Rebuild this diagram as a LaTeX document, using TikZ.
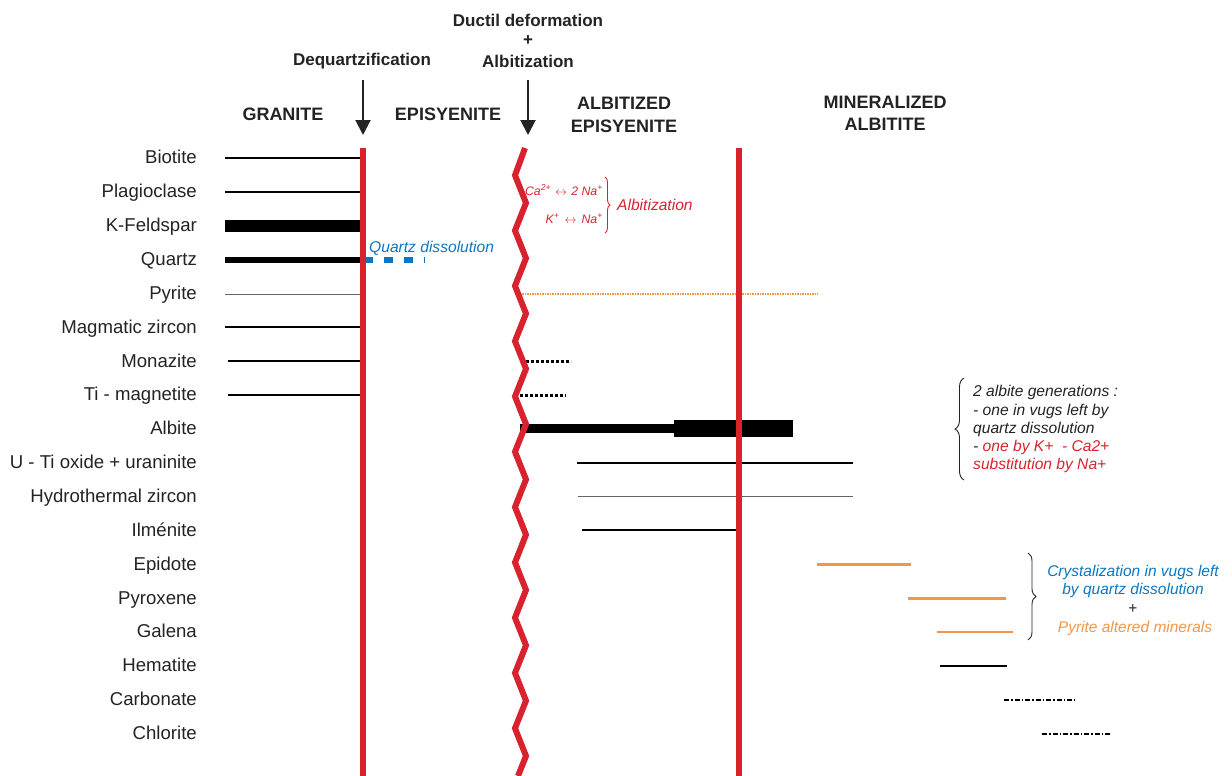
\documentclass[tikz,border=0pt]{standalone}
\usepackage{fontspec}
\setmainfont{Liberation Sans}
\usetikzlibrary{arrows.meta,decorations.pathreplacing}
\definecolor{fred}{RGB}{216,35,47}
\definecolor{fblue}{RGB}{10,119,196}
\definecolor{forange}{RGB}{245,150,70}
\definecolor{ftext}{RGB}{35,35,35}
\begin{document}
\begin{tikzpicture}[x=1pt,y=-1pt,
  lbl/.style={anchor=base east,inner sep=0,font=\fontsize{18.6}{21}\selectfont,text=ftext},
  hdr/.style={anchor=base,inner sep=0,font=\fontsize{18}{21}\selectfont\bfseries,text=ftext},
  evt/.style={anchor=base,inner sep=0,font=\fontsize{17}{20}\selectfont\bfseries,text=ftext},
  note/.style={anchor=base west,inner sep=0,font=\fontsize{15.6}{19}\selectfont\itshape,text=ftext},
  cnote/.style={anchor=base,inner sep=0,font=\fontsize{15.5}{19}\selectfont\itshape},
  ion/.style={anchor=base east,inner sep=0,font=\fontsize{12.3}{14}\selectfont\itshape,text=fred},
  redline/.style={draw=fred,line width=6pt,line join=miter},
  evtarrow/.style={-{Triangle[length=15pt,width=15pt]},line width=2pt,draw=ftext},
  thin/.style={line width=1.2pt},
  hairline/.style={line width=0.8pt,draw=black!60},
  dotline/.style={line width=3pt,dash pattern=on 3pt off 2pt},
  dashdot/.style={line width=2pt,dash pattern=on 5pt off 2pt on 1.5pt off 2pt},
  brc/.style={decorate,line width=0.9pt}
]
\useasboundingbox (0,0) rectangle (1232,776);

% ---- event labels and arrows
\node[evt] (dq) at (362,66) {Dequartzification};
\node[evt] (dd) at (528,27) {Ductil deformation};
\node[evt] (pl) at (528,46) {+};
\node[evt] (ab) at (528,67) {Albitization};
\coordinate (dqtop) at (363,80);
\coordinate (dqtip) at (363,135);
\coordinate (abtop) at (528,80);
\coordinate (abtip) at (528,135);
\draw[evtarrow] (dqtop) -- (dqtip);
\draw[evtarrow] (abtop) -- (abtip);

% ---- headers
\node[hdr] (h1) at (283,120.5) {GRANITE};
\node[hdr] (h2) at (448,121) {EPISYENITE};
\node[hdr] (h3a) at (624,110) {ALBITIZED};
\node[hdr] (h3b) at (624,132) {EPISYENITE};
\node[hdr] (h4a) at (885,108) {MINERALIZED};
\node[hdr] (h4b) at (885,130) {ALBITITE};

% ---- row labels
\foreach \t/\y [count=\i] in {Biotite/157,Plagioclase/191,K-Feldspar/225,Quartz/259,Pyrite/293,Magmatic zircon/327,Monazite/361,Ti - magnetite/394,Albite/428,U - Ti oxide + uraninite/462,Hydrothermal zircon/496,Ilménite/530,Epidote/564,Pyroxene/598,Galena/631,Hematite/665,Carbonate/699,Chlorite/733}
  \node[lbl] (r\i) at (197,\y+6.5) {\t};

% ---- granite stage
\draw[thin] (225,158) -- (360,158);
\draw[thin] (225,192) -- (360,192);
\draw[line width=12pt] (225,226) -- (360,226);
\draw[line width=6pt] (225,260) -- (362,260);
\draw[line width=6pt,draw=fblue,dash pattern=on 9pt off 11pt] (364,260) -- (425,260);
\draw[hairline] (225,294) -- (360,294);
\draw[thin] (225,327) -- (360,327);
\draw[thin] (228,361) -- (360,361);
\draw[thin] (228,395) -- (360,395);

% ---- albitized episyenite stage
\draw[line width=1.2pt,draw=forange,dash pattern=on 1.5pt off 1pt] (522,294) -- (818,294);
\draw[dotline] (526,361) -- (571,361);
\draw[dotline] (520,395) -- (566,395);
\draw[line width=9pt] (520,428.5) -- (675,428.5);
\draw[line width=17pt] (674,428.5) -- (793,428.5);
\draw[thin] (577,463) -- (853,463);
\draw[hairline] (578,496) -- (853,496);
\draw[thin] (582,530) -- (736,530);

% ---- mineralized albitite stage
\draw[line width=3pt,draw=forange] (817,564) -- (911,564);
\draw[line width=3pt,draw=forange] (908,598) -- (1006,598);
\draw[line width=1.5pt,draw=forange] (937,632) -- (1013,632);
\draw[line width=2pt] (940,666) -- (1007,666);
\draw[dashdot] (1004,700) -- (1075,700);
\draw[dashdot] (1042,734) -- (1111,734);

% ---- stage boundaries
\draw[redline] (363,148) -- (363,776);
\draw[redline] (739,148) -- (739,776);
\draw[redline] (525,148) -- (515,175.3)
  foreach \k in {0,...,9} { -- (526,{202.95+55.3*\k}) -- (515,{230.6+55.3*\k}) }
  -- (526,755.95) -- (518,776);

% ---- annotations
\node[anchor=base west,inner sep=0,font=\fontsize{15.6}{19}\selectfont\itshape,text=fblue] (qd) at (369,252) {Quartz dissolution};

\node[ion] (ca) at (603,195) {Ca\textsuperscript{2+}\,\,$\leftrightarrow$\,\,2 Na\textsuperscript{+}};
\node[ion] (kk) at (603,223) {K\textsuperscript{+}\hspace{3pt}\,$\leftrightarrow$\hspace{3pt}\,Na\textsuperscript{+}};
\draw[brc,draw=fred,decoration={brace,amplitude=5pt}] (605,177) -- (605,233);
\node[anchor=base west,inner sep=0,font=\fontsize{15.6}{19}\selectfont\itshape,text=fred] (alb) at (617,210) {Albitization};

\draw[brc,draw=ftext,decoration={brace,amplitude=9pt}] (964,480) -- (964,378);
\node[note] (n1) at (973,396) {2 albite generations :};
\node[note] (n2) at (973,415) {- one in vugs left by};
\node[note] (n3) at (973,433) {quartz dissolution};
\node[note] (n4) at (973,451) {- \textcolor{fred}{one by K+\ \ - Ca2+}};
\node[note,text=fred] (n5) at (973,469) {substitution by Na+};

\draw[brc,draw=ftext,decoration={brace,amplitude=8pt}] (1028,553) -- (1028,640);
\node[cnote,text=fblue] (c1) at (1133,576) {Crystalization in vugs left};
\node[cnote,text=fblue] (c2) at (1133,594) {by quartz dissolution};
\node[cnote,text=ftext,font=\fontsize{15.5}{19}\selectfont] (c3) at (1133,613) {+};
\node[cnote,text=forange] (c4) at (1135,632) {Pyrite altered minerals};
\end{tikzpicture}
\end{document}
